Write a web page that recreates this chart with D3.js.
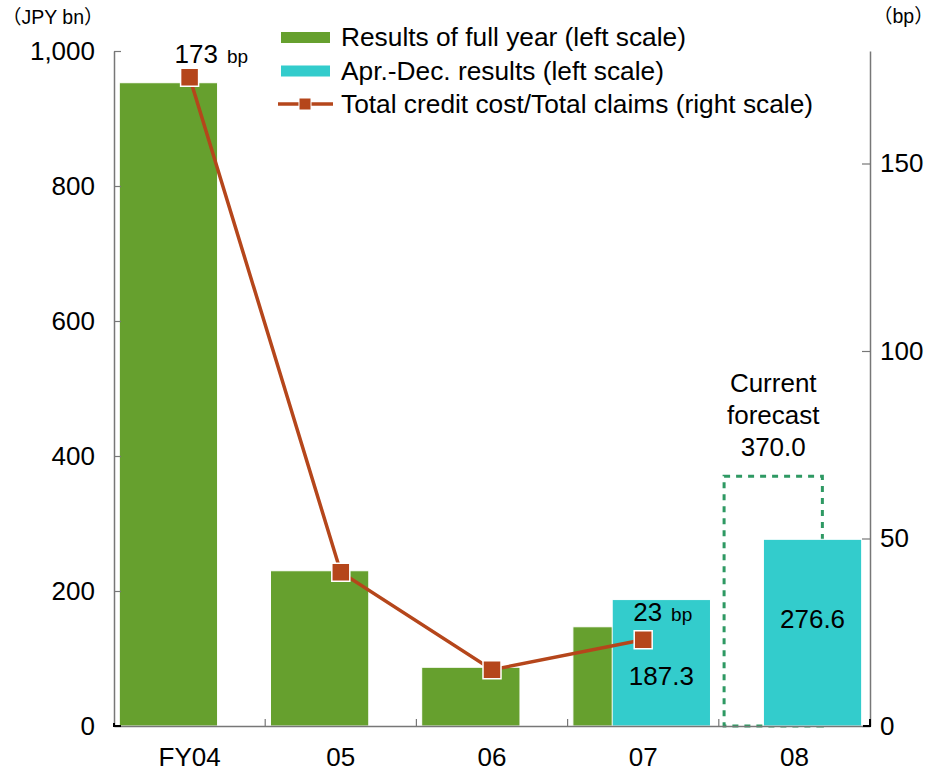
<!DOCTYPE html>
<html>
<head>
<meta charset="utf-8">
<script src="https://cdn.jsdelivr.net/npm/d3@7"></script>
<style>
  body { margin: 0; background: #fff; }
  svg text { font-family: "Liberation Sans", Arial, "Noto Sans CJK JP", sans-serif; fill: #000; }
</style>
</head>
<body>
<svg width="944" height="771"></svg>
<script>
const categories = ["FY04", "05", "06", "07", "08"]
const fullYear = [953, 230, 87, 147, null]
const aprDec = [null, null, null, 187.3, 276.6]
const forecast = [null, null, null, null, 370.0]
const creditCostBp = [173, 41, 15, 23, null]
const leftTicks = [0, 200, 400, 600, 800, 1000]
const rightTicks = [0, 50, 100, 150]

const green = "#66a02e"
const cyan = "#33cccc"
const brown = "#b5461b"
const dashGreen = "#2e9963"
const axisGrey = "#777"
const fs = 26

const svg = d3.select("svg")

const x = d3.scaleBand().domain(categories).range([114, 870])
const y = d3.scaleLinear().domain([0, 1000]).range([726, 51])
const y2 = d3.scaleLinear().domain([0, 180]).range([726, 51])
const bw = x.bandwidth()

// bar slots inside each category (full year left, Apr-Dec shifted right)
const fullX = c => x(c) + bw * 0.035
const aprX = c => x(c) + bw * 0.295
const barW = bw * 0.65

const bars = svg.append("g")

bars.selectAll("rect.full")
    .data(categories.map((c, i) => ({c, v: fullYear[i]})).filter(d => d.v != null))
    .enter().append("rect")
    .attr("class", "full")
    .attr("x", d => fullX(d.c))
    .attr("y", d => y(d.v))
    .attr("width", barW)
    .attr("height", d => y(0) - y(d.v))
    .attr("fill", green)
    .attr("stroke", "#fff")
    .attr("stroke-width", 1)

bars.selectAll("rect.fc")
    .data(categories.map((c, i) => ({c, v: forecast[i]})).filter(d => d.v != null))
    .enter().append("rect")
    .attr("class", "fc")
    .attr("x", d => fullX(d.c))
    .attr("y", d => y(d.v))
    .attr("width", barW)
    .attr("height", d => y(0) - y(d.v))
    .attr("fill", "none")
    .attr("stroke", dashGreen)
    .attr("stroke-width", 3)
    .attr("stroke-dasharray", "6,6")

bars.selectAll("rect.apr")
    .data(categories.map((c, i) => ({c, v: aprDec[i]})).filter(d => d.v != null))
    .enter().append("rect")
    .attr("class", "apr")
    .attr("x", d => aprX(d.c))
    .attr("y", d => y(d.v))
    .attr("width", barW)
    .attr("height", d => y(0) - y(d.v))
    .attr("fill", cyan)
    .attr("stroke", "#fff")
    .attr("stroke-width", 1)

// axes
const leftAxis = d3.axisLeft(y).tickValues(leftTicks).tickFormat(d3.format(","))
    .tickSize(-7).tickSizeOuter(0).tickPadding(19)
const rightAxis = d3.axisRight(y2).tickValues(rightTicks)
    .tickSize(-8).tickSizeOuter(0).tickPadding(10)
const bottomAxis = d3.axisBottom(x).tickSize(0).tickPadding(22)

function styleAxis(g, size) {
    g.selectAll("path.domain").attr("stroke", axisGrey).attr("stroke-width", 1.5)
    g.selectAll(".tick line").attr("stroke", axisGrey).attr("stroke-width", 1.2)
    g.selectAll("text").attr("font-size", size).attr("fill", "#000")
        .style("font-family", "'Liberation Sans', Arial, sans-serif")
}

svg.append("g").attr("transform", "translate(114,0)").call(leftAxis).call(styleAxis, fs)
svg.append("g").attr("transform", "translate(870,0)").call(rightAxis).call(styleAxis, fs)
svg.append("g").attr("transform", "translate(0,726)").call(bottomAxis).call(styleAxis, fs)

// category boundary ticks on the bottom axis
svg.append("g").selectAll("line")
    .data(categories.slice(1))
    .enter().append("line")
    .attr("x1", d => x(d)).attr("x2", d => x(d))
    .attr("y1", y(0)).attr("y2", y(0) - 7)
    .attr("stroke", axisGrey).attr("stroke-width", 1.2)

// corner marks
svg.append("path").attr("d", `M${x.range()[0]},${y(0) - 3}V${y(0)}H${x.range()[0] + 7}`)
    .attr("fill", "none").attr("stroke", "#000").attr("stroke-width", 2)
svg.append("path").attr("d", `M${x.range()[1] - 7},${y(0)}H${x.range()[1]}V${y(0) - 7}`)
    .attr("fill", "none").attr("stroke", "#000").attr("stroke-width", 2)

// line series
const pts = categories.map((c, i) => ({c, v: creditCostBp[i]})).filter(d => d.v != null)
const line = d3.line().x(d => x(d.c) + bw / 2).y(d => y2(d.v))
svg.append("path").datum(pts).attr("d", line)
    .attr("fill", "none").attr("stroke", brown).attr("stroke-width", 3.5)
svg.append("g").selectAll("rect")
    .data(pts).enter().append("rect")
    .attr("x", d => x(d.c) + bw / 2 - 9).attr("y", d => y2(d.v) - 9)
    .attr("width", 18).attr("height", 18)
    .attr("fill", brown).attr("stroke", "#fff").attr("stroke-width", 1.5)

// unit labels
svg.append("text").attr("x", 2).attr("y", 24).attr("font-size", 19.5).text("（JPY bn）")
svg.append("text").attr("x", 873).attr("y", 23).attr("font-size", 19.5).text("（bp）")

// annotations
function bpLabel(cat, val, dx, dy) {
    const t = svg.append("text")
        .attr("x", x(cat) + bw / 2 + dx).attr("y", y2(val) + dy)
    t.append("tspan").attr("font-size", fs).text(val)
    t.append("tspan").attr("font-size", 19).attr("dx", 9).text("bp")
}
bpLabel("FY04", creditCostBp[0], -15, -14)
bpLabel("07", creditCostBp[3], -10, -19)

svg.append("text").attr("x", aprX("07") + barW / 2).attr("y", y(aprDec[3]) + 85)
    .attr("text-anchor", "middle").attr("font-size", fs).text(aprDec[3].toFixed(1))
svg.append("text").attr("x", aprX("08") + barW / 2).attr("y", y(aprDec[4]) + 89)
    .attr("text-anchor", "middle").attr("font-size", fs).text(aprDec[4].toFixed(1))

const fc = svg.append("text").attr("text-anchor", "middle").attr("font-size", fs)
;["Current", "forecast", forecast[4].toFixed(1)].forEach((s, i) => {
    fc.append("tspan").attr("x", fullX("08") + barW / 2).attr("y", y(forecast[4]) - 84 + i * 32).text(s)
})

// legend
const legendItems = [
    {label: "Results of full year (left scale)", type: "bar", color: green},
    {label: "Apr.-Dec. results (left scale)", type: "bar", color: cyan},
    {label: "Total credit cost/Total claims (right scale)", type: "line", color: brown},
]
const lg = svg.append("g").attr("transform", "translate(280,37)")
legendItems.forEach((d, i) => {
    const g = lg.append("g").attr("transform", `translate(0,${i * 33.5})`)
    if (d.type === "bar") {
        g.append("rect").attr("x", 1).attr("y", -5).attr("width", 49).attr("height", 11).attr("fill", d.color)
    } else {
        g.append("line").attr("x1", -2).attr("x2", 53).attr("y1", 0).attr("y2", 0)
            .attr("stroke", d.color).attr("stroke-width", 3.5)
        g.append("rect").attr("x", 19).attr("y", -6).attr("width", 12).attr("height", 12)
            .attr("fill", d.color).attr("stroke", "#fff").attr("stroke-width", 1)
    }
    g.append("text").attr("x", 61).attr("y", 9).attr("font-size", 26.3).text(d.label)
})
</script>
</body>
</html>
